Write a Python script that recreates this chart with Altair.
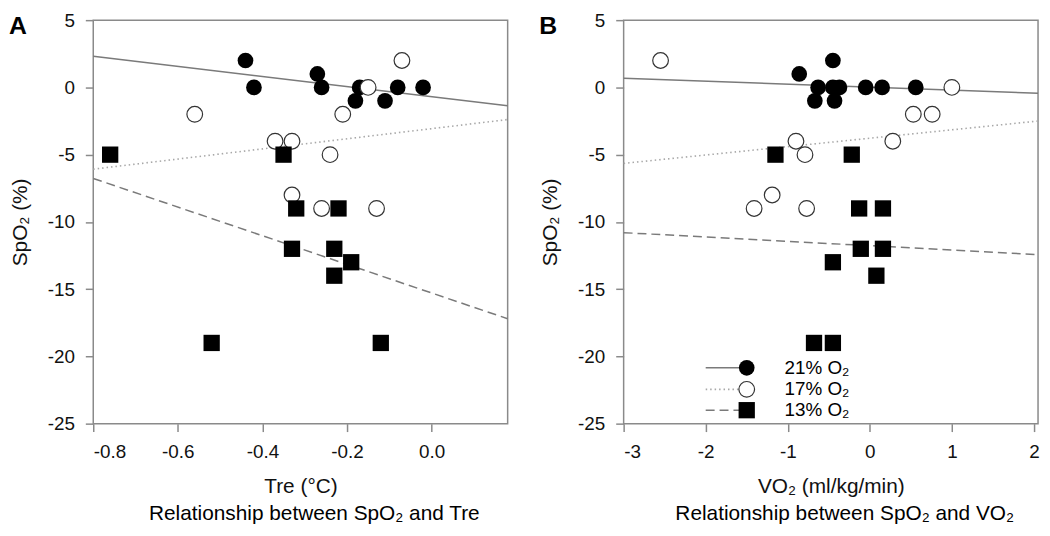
import altair as alt
import pandas as pd

# ---------------- Panel A : SpO2 vs Tre ----------------
a21_x = [-0.44, -0.42, -0.27, -0.26, -0.17, -0.18, -0.11, -0.08, -0.02]
a21_y = [2, 0, 1, 0, 0, -1, -1, 0, 0]
a17_x = [-0.07, -0.15, -0.56, -0.21, -0.37, -0.33, -0.24, -0.33, -0.26, -0.13]
a17_y = [2, 0, -2, -2, -4, -4, -5, -8, -9, -9]
a13_x = [-0.76, -0.35, -0.32, -0.22, -0.33, -0.23, -0.19, -0.23, -0.52, -0.12]
a13_y = [-5, -5, -9, -9, -12, -12, -13, -14, -19, -19]
a_fit_x = [-0.8, 0.18]
a_fit21 = [2.32, -1.37]
a_fit17 = [-6.08, -2.39]
a_fit13 = [-6.77, -17.2]
a_xticks = [-0.8, -0.6, -0.4, -0.2, 0.0]

# ---------------- Panel B : SpO2 vs VO2 ----------------
b21_x = [-0.86, -0.45, -0.63, -0.45, -0.37, -0.05, 0.15, 0.56, -0.67, -0.43]
b21_y = [1, 2, 0, 0, 0, 0, 0, 0, -1, -1]
b17_x = [-2.55, 1.0, 0.53, 0.76, -0.90, 0.28, -0.79, -1.19, -1.41, -0.77]
b17_y = [2, 0, -2, -2, -4, -4, -5, -8, -9, -9]
b13_x = [-1.15, -0.22, -0.13, 0.16, -0.11, 0.16, -0.45, 0.08, -0.68, -0.45]
b13_y = [-5, -5, -9, -9, -12, -12, -13, -14, -19, -19]
b_fit_x = [-3.0, 2.05]
b_fit21 = [0.68, -0.44]
b_fit17 = [-5.65, -2.50]
b_fit13 = [-10.8, -12.43]
b_xticks = [-3, -2, -1, 0, 1, 2]

y_ticks = [-25, -20, -15, -10, -5, 0, 5]

legend_labels = ["21% O₂", "17% O₂", "13% O₂"]
legend_y = [-20.85, -22.45, -24.0]
legend_x0 = -2.0
legend_x1 = -1.5
legend_tx = -1.04

FONT = "Liberation Sans"
H = 407
MINUS = "replace(datum.label, '\u2212', '-')"

LINE_STYLE = {
    "21": dict(color="#7a7a7a", strokeWidth=1.5),
    "17": dict(color="#a8a8a8", strokeWidth=1.6, strokeDash=[1.5, 3]),
    "13": dict(color="#7a7a7a", strokeWidth=1.5, strokeDash=[9, 5]),
}


def panel(x21, y21, x17, y17, x13, y13, fit_x, f21, f17, f13,
          xdomain, xticks, xfmt, xtitle, caption, letter, width, legend=False):
    xs = alt.Scale(domain=xdomain, nice=False, zero=False)
    ys = alt.Scale(domain=[-25, 5], nice=False, zero=False)
    X = alt.X("x:Q", scale=xs,
              axis=alt.Axis(values=xticks, format=xfmt, title=xtitle, labelExpr=MINUS,
                            titlePadding=14, labelPadding=11))
    Y = alt.Y("y:Q", scale=ys,
              axis=alt.Axis(values=y_ticks, format="d", title="SpO₂ (%)", labelExpr=MINUS,
                            titlePadding=17, labelPadding=11))

    layers = []
    for key, fy in (("21", f21), ("17", f17), ("13", f13)):
        df = pd.DataFrame({"x": fit_x, "y": fy})
        layers.append(alt.Chart(df).mark_line(**LINE_STYLE[key]).encode(x=X, y=Y))

    d21 = pd.DataFrame({"x": x21, "y": y21})
    d17 = pd.DataFrame({"x": x17, "y": y17})
    d13 = pd.DataFrame({"x": x13, "y": y13})
    layers.append(alt.Chart(d21).mark_point(shape="circle", size=250, filled=True,
                                            color="black", opacity=1).encode(x=X, y=Y))
    layers.append(alt.Chart(d17).mark_point(shape="circle", size=250, filled=True,
                                            fill="white", stroke="#333333", strokeWidth=1.2,
                                            opacity=1).encode(x=X, y=Y))
    layers.append(alt.Chart(d13).mark_point(shape="square", size=270, filled=True,
                                            color="black", opacity=1).encode(x=X, y=Y))

    if legend:
        for i, key in enumerate(("21", "17", "13")):
            ldf = pd.DataFrame({"x": [legend_x0, legend_x1], "y": [legend_y[i]] * 2})
            layers.append(alt.Chart(ldf).mark_line(**LINE_STYLE[key]).encode(x=X, y=Y))
        pdf = pd.DataFrame({"x": [legend_x1] * 3, "y": legend_y})
        layers.append(alt.Chart(pdf.iloc[[0]]).mark_point(shape="circle", size=250, filled=True,
                                                          color="black", opacity=1).encode(x=X, y=Y))
        layers.append(alt.Chart(pdf.iloc[[1]]).mark_point(shape="circle", size=250, filled=True,
                                                          fill="white", stroke="#333333",
                                                          strokeWidth=1.2, opacity=1).encode(x=X, y=Y))
        layers.append(alt.Chart(pdf.iloc[[2]]).mark_point(shape="square", size=270, filled=True,
                                                          color="black", opacity=1).encode(x=X, y=Y))
        tdf = pd.DataFrame({"x": [legend_tx] * 3, "y": legend_y, "t": legend_labels})
        layers.append(alt.Chart(tdf).mark_text(align="left", baseline="middle", font=FONT,
                                               fontSize=19, color="black")
                      .encode(x=X, y=Y, text="t:N"))

    ldf = pd.DataFrame({"t": [letter]})
    layers.append(alt.Chart(ldf).mark_text(align="left", baseline="middle", font=FONT,
                                           fontSize=25, fontWeight="bold", color="black")
                  .encode(x=alt.value(-85), y=alt.value(6), text="t:N"))
    cdf = pd.DataFrame({"t": [caption]})
    layers.append(alt.Chart(cdf).mark_text(align="center", baseline="alphabetic", font=FONT,
                                           fontSize=21, color="black")
                  .encode(x=alt.value(width / 2 + 14), y=alt.value(H + 97), text="t:N"))

    return alt.layer(*layers).properties(width=width, height=H)


chart_a = panel(a21_x, a21_y, a17_x, a17_y, a13_x, a13_y, a_fit_x, a_fit21, a_fit17, a_fit13,
                [-0.8, 0.18], a_xticks, ".1f", "Tre (°C)",
                "Relationship between SpO₂ and Tre", "A", 418)
chart_b = panel(b21_x, b21_y, b17_x, b17_y, b13_x, b13_y, b_fit_x, b_fit21, b_fit17, b_fit13,
                [-3, 2.05], b_xticks, "d", "VO₂ (ml/kg/min)",
                "Relationship between SpO₂ and VO₂", "B", 418, legend=True)

chart = (
    alt.hconcat(chart_a, chart_b, spacing=27)
    .properties(padding={"left": 0, "top": 0, "right": 0, "bottom": 0})
    .configure_view(stroke="#8a8a8a", strokeWidth=1.5)
    .configure_axis(
        grid=False, domain=False,
        tickColor="#8a8a8a", tickSize=8, tickWidth=1.5,
        labelFont=FONT, labelFontSize=19, labelColor="#111111",
        titleFont=FONT, titleFontSize=21, titleFontWeight="normal", titleColor="#111111",
    )
)

chart.save("out.html", embed_options={"renderer": "svg", "actions": False})
